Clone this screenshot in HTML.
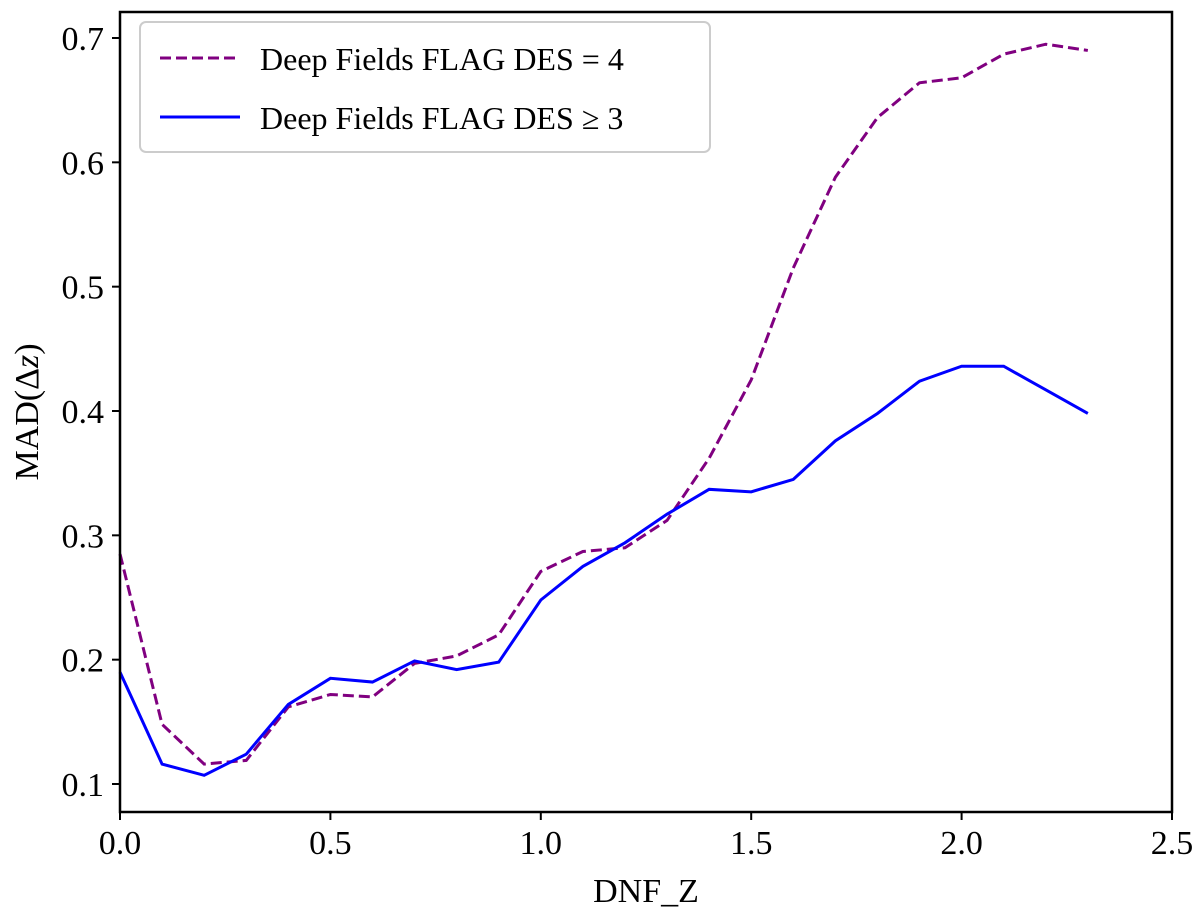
<!DOCTYPE html>
<html><head><meta charset="utf-8"><style>
html,body{margin:0;padding:0;background:#fff}
svg{display:block;font-family:"Liberation Serif",serif}
</style></head><body>
<svg id="chart" width="1200" height="917" viewBox="0 0 1200 917" xmlns="http://www.w3.org/2000/svg">
<g id="grid"></g>
<g id="series"></g>
<rect x="120" y="12" width="1052" height="800" fill="none" stroke="#000" stroke-width="2.5"/>
<g id="ticks"></g>
<text x="646" y="902" font-size="34" text-anchor="middle">DNF_Z</text>
<text transform="translate(38,412) rotate(-90)" font-size="34" text-anchor="middle">MAD(<tspan>Δ</tspan><tspan font-style="italic">z</tspan>)</text>
<g>
<rect x="140" y="22" width="570" height="130" rx="6" fill="#fff" stroke="#ccc" stroke-width="2"/>
<line x1="160" y1="58" x2="240" y2="58" stroke="#800080" stroke-width="3" stroke-dasharray="11,5"/>
<text x="260" y="70" font-size="32">Deep Fields FLAG DES = 4</text>
<line x1="160" y1="117" x2="240" y2="117" stroke="#0000ff" stroke-width="3"/>
<text x="260" y="129" font-size="32">Deep Fields FLAG DES ≥ 3</text>
</g>
</svg>
<script>
const xValues=[0.0,0.1,0.2,0.3,0.4,0.5,0.6,0.7,0.8,0.9,1.0,1.1,1.2,1.3,1.4,1.5,1.6,1.7,1.8,1.9,2.0,2.1,2.2,2.3];
const flag4Values=[0.285,0.148,0.116,0.119,0.162,0.172,0.170,0.197,0.203,0.220,0.271,0.287,0.290,0.312,0.362,0.425,0.515,0.588,0.636,0.664,0.668,0.687,0.695,0.690];
const flag3Values=[0.190,0.116,0.107,0.124,0.164,0.185,0.182,0.199,0.192,0.198,0.248,0.275,0.294,0.317,0.337,0.335,0.345,0.376,0.398,0.424,0.436,0.436,0.417,0.398];
const xTicks=[0.0,0.5,1.0,1.5,2.0,2.5];
const yTicks=[0.1,0.2,0.3,0.4,0.5,0.6,0.7];
const NS="http://www.w3.org/2000/svg";
const sx=v=>120+v*(1052/2.5);
const sy=v=>784-(v-0.1)*(746/0.6);
const ticks=document.getElementById('ticks');
xTicks.forEach(t=>{
 const l=document.createElementNS(NS,'line');
 
 
 l.setAttribute('x1',sx(t));l.setAttribute('x2',sx(t));l.setAttribute('y1',812);l.setAttribute('y2',820);l.setAttribute('stroke','#000');l.setAttribute('stroke-width',2);
 ticks.appendChild(l);
 const tx=document.createElementNS(NS,'text');
 
 
 tx.setAttribute('x',sx(t));tx.setAttribute('y',854);tx.setAttribute('font-size',34);tx.setAttribute('text-anchor','middle');
 tx.textContent=t.toFixed(1);ticks.appendChild(tx);
});
yTicks.forEach(t=>{
 const l=document.createElementNS(NS,'line');
 
 
 l.setAttribute('x1',112);l.setAttribute('x2',120);l.setAttribute('y1',sy(t));l.setAttribute('y2',sy(t));l.setAttribute('stroke','#000');l.setAttribute('stroke-width',2);
 ticks.appendChild(l);
 const tx=document.createElementNS(NS,'text');
 
 
 tx.setAttribute('x',104);tx.setAttribute('y',sy(t)+12);tx.setAttribute('font-size',34);tx.setAttribute('text-anchor','end');
 tx.textContent=t.toFixed(1);ticks.appendChild(tx);
});
const series=document.getElementById('series');
function line(vals,color,dash,name){
 const p=document.createElementNS(NS,'polyline');
 
 
 p.setAttribute('points',vals.map((v,i)=>sx(xValues[i])+','+sy(v)).join(' '));
 p.setAttribute('fill','none');p.setAttribute('stroke',color);p.setAttribute('stroke-width',3);
 if(dash)p.setAttribute('stroke-dasharray',dash);
 series.appendChild(p);
}
line(flag4Values,'#800080','11,5','flag4-line');
line(flag3Values,'#0000ff',null,'flag3-line');
</script>
</body></html>
